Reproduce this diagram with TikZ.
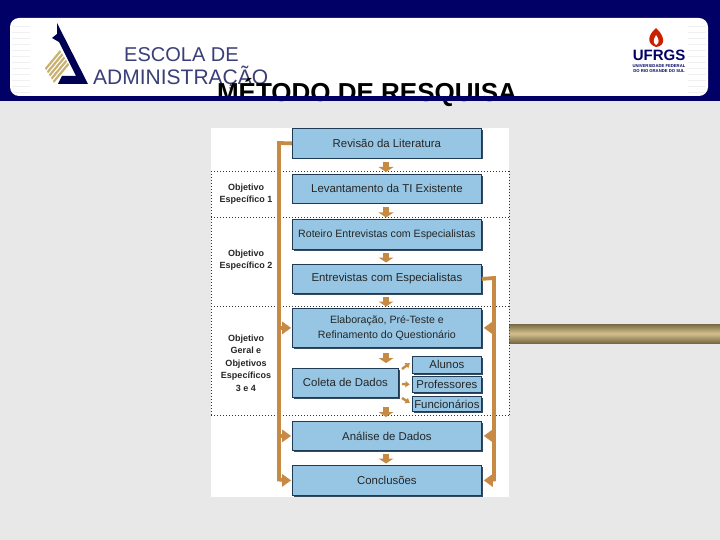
\documentclass[tikz,border=0pt]{standalone}
\usepackage{fontspec}
\usetikzlibrary{arrows.meta}
\setmainfont{Liberation Sans}
\definecolor{navy}{HTML}{000066}
\definecolor{bgc}{HTML}{E8E8E8}
\definecolor{boxc}{HTML}{96C6E4}
\definecolor{edgec}{HTML}{1F3A55}
\definecolor{org}{HTML}{C68A45}
\definecolor{gold}{HTML}{C7B070}
\definecolor{logoc}{HTML}{3A3F78}
\tikzset{
 bx/.style={draw=edgec,line width=0.8pt,fill=boxc,text=black!85,inner sep=0pt,align=center,font=\fontsize{11.4}{15}\selectfont,
   minimum width=#1,anchor=north west},
 tight/.style={font=\fontsize{10.6}{15}\selectfont},
 conn/.style={draw=org,line width=3.8pt},
 tip/.style={fill=org,draw=none},
 small/.style={-{Latex[length=4.5pt,width=7pt]},org,line width=2.4pt},
 dots/.style={draw=black!80,line width=0.9pt,dash pattern=on 1pt off 2pt},
 obj/.style={font=\bfseries\fontsize{9}{12.5}\selectfont,align=center,text=black!85}
}
\begin{document}
\begin{tikzpicture}[x=1pt,y=-1pt]
\useasboundingbox (0,0) rectangle (720,540);
\fill[bgc] (0,0) rectangle (720,540);
\fill[navy] (0,0) rectangle (720,96);
\fill[white,rounded corners=9pt] (10,18) rectangle (708,96);
\foreach \yy in {26,32,...,92}{
 \fill[black!6] (12,\yy) rectangle (30,\yy+0.8);
 \fill[black!6] (688,\yy) rectangle (706,\yy+0.8);}
% left logo
\fill[navy!80!black] (57,23) -- (88,84) -- (58,84) -- (62,76) -- (76,76) -- (59,42) -- (52,38) -- (57,34) -- cycle;
\foreach \i in {0,1,2,3,4}{
 \fill[gold] (45+\i*2,68+\i*3.2) -- (60+\i*2,50+\i*3.2) -- (61+\i*2,52.2+\i*3.2) -- (46+\i*2,70.2+\i*3.2) -- cycle;}
\node[text=logoc,font=\fontsize{20}{20}\selectfont,anchor=base west,inner sep=0pt] (esc) at (124,62) {ESCOLA DE};
\node[text=logoc,font=\fontsize{21}{21}\selectfont,anchor=base west,inner sep=0pt] (adm) at (93,85) {ADMINISTRAÇÃO};
% right logo
\fill[red!70!orange!80!black] (656,28) .. controls (647,36) and (647,44) .. (656,47) .. controls (666,46) and (665,36) .. (656,28);
\fill[white] (656,35) .. controls (653,40) and (653,43) .. (656,45) .. controls (660,43) and (659,39) .. (656,35);
\node[text=navy,font=\bfseries\fontsize{15}{15}\selectfont,anchor=base,inner sep=0pt] (ufrgs) at (659,61) {UFRGS};
\node[text=navy,font=\bfseries\fontsize{4.2}{5.2}\selectfont,align=center,anchor=north,inner sep=0pt] (uni) at (659,64) {UNIVERSIDADE FEDERAL\\DO RIO GRANDE DO SUL};
% title
\node[font=\bfseries\fontsize{26}{26}\selectfont,anchor=base,inner sep=0pt,text=black] (tit) at (367,101.5) {MÉTODO DE RESQUISA};
\fill[navy] (0,96) rectangle (720,101.5);
% gold bar
\shade[top color=gold!60!black,bottom color=gold!60!black,middle color=gold!80!white] (509,324) rectangle (720,343);
% panel
\fill[white] (211,128) rectangle (509,497);
\draw[dots] (211,171) -- (509,171);
\draw[dots] (211,217) -- (509,217);
\draw[dots] (211,306) -- (509,306);
\draw[dots] (211,415) -- (509,415);
\draw[dots] (211,171) -- (211,415);
\draw[dots] (509,171) -- (509,415);
\node[obj] (o1) at (246,194) {Objetivo\\Específico 1};
\node[obj] (o2) at (246,260) {Objetivo\\Específico 2};
\node[obj] (o3) at (246,363) {Objetivo\\Geral e\\Objetivos\\Específicos\\3 e 4};
% shadows
\foreach \a/\b/\c/\d in {292/128/481/158,292/174/481/203,292/219/481/249,292/264/481/293,292/308/481/347,292/368/398/397,412/356/481/373,412/376/481/392,412/396/481/411,292/421/481/450,292/465/481/495}{
 \fill[edgec!75!gray] (\a+2,\b+2) rectangle (\c+1.5,\d+1.5);}
% boxes
\node[bx=189pt,minimum height=30pt] (n1) at (292,128) {Revisão da Literatura};
\node[bx=189pt,minimum height=29pt] (n2) at (292,174) {Levantamento da TI Existente};
\node[bx=189pt,minimum height=30pt,tight] (n3) at (292,219) {Roteiro Entrevistas com Especialistas};
\node[bx=189pt,minimum height=29pt] (n4) at (292,264) {Entrevistas com Especialistas};
\node[bx=189pt,minimum height=39pt,tight] (n5) at (292,308) {Elaboração, Pré-Teste e\\Refinamento do Questionário};
\node[bx=106pt,minimum height=29pt] (n6) at (292,368) {Coleta de Dados};
\node[bx=69pt,minimum height=17pt] (a1) at (412,356) {Alunos};
\node[bx=69pt,minimum height=16pt] (a2) at (412,376) {Professores};
\node[bx=69pt,minimum height=15pt] (a3) at (412,396) {Funcionários};
\node[bx=189pt,minimum height=29pt] (n7) at (292,421) {Análise de Dados};
\node[bx=189pt,minimum height=30pt] (n8) at (292,465) {Conclusões};
% down arrows
\foreach \xx/\yy in {386/166,386/211.5,386/256.5,386/300.5,386/357,386/411,386/457.5}{
 \fill[tip] (\xx-3.2,\yy-4) rectangle (\xx+3.2,\yy+1.5);
 \fill[tip] (\xx-7.5,\yy+1) -- (\xx+7.5,\yy+1) -- (\xx,\yy+6) -- cycle;}
% left and right feedback
\coordinate (lt) at (279,143);
\coordinate (lb) at (279,479.5);
\coordinate (rt) at (494,278);
\coordinate (rb) at (494,479.5);
\draw[conn,line join=miter] (n1.west) -- (lt) -- (lb) -- ([xshift=-6pt]n8.west);
\draw[conn] (n5.west-|lt) -- ([xshift=-6pt]n5.west);
\draw[conn] (n7.west-|lt) -- ([xshift=-6pt]n7.west);
\draw[conn,line join=miter] (n4.east) -- (rt) -- (rb) -- ([xshift=6pt]n8.east);
\draw[conn] (n5.east-|rt) -- ([xshift=6pt]n5.east);
\draw[conn] (n7.east-|rt) -- ([xshift=6pt]n7.east);
\foreach \n in {n5,n7,n8}{
 \fill[tip] ([xshift=-10pt,yshift=6.5pt]\n.west) -- ([xshift=-10pt,yshift=-6.5pt]\n.west) -- ([xshift=-1pt]\n.west) -- cycle;
 \fill[tip] ([xshift=11pt,yshift=6.5pt]\n.east) -- ([xshift=11pt,yshift=-6.5pt]\n.east) -- ([xshift=2pt]\n.east) -- cycle;}
% small arrows
\coordinate (s1) at (402,369);
\coordinate (e1) at (410,363);
\coordinate (s2) at (402,384);
\coordinate (s3) at (402,398);
\coordinate (e3) at (410,403);
\draw[small] (s1) -- (e1);
\draw[small] (s2) -- ([xshift=-2pt]a2.west);
\draw[small] (s3) -- (e3);
\end{tikzpicture}
\end{document}
